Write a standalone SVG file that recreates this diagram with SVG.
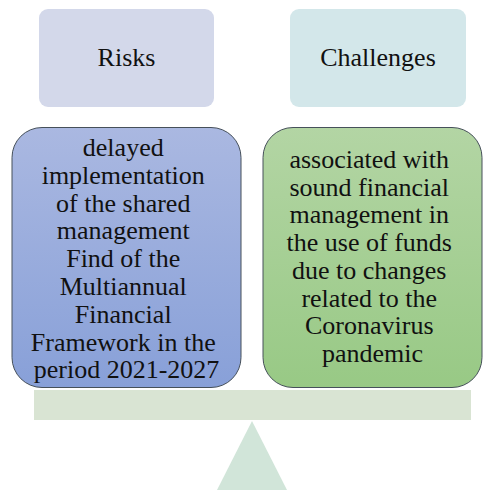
<svg xmlns="http://www.w3.org/2000/svg" width="483" height="490" viewBox="0 0 483 490">
<style>
.t{font-family:"Liberation Serif","Times New Roman",serif;font-size:26px;fill:#111;text-anchor:middle}
.box{stroke:#46505a;stroke-width:1}
</style>
<defs>
<linearGradient id="gb" x1="0" y1="0" x2="0" y2="1">
<stop offset="0" stop-color="#aab8e1"/>
<stop offset="1" stop-color="#88a0d8"/>
</linearGradient>
<linearGradient id="gg" x1="0" y1="0" x2="0" y2="1">
<stop offset="0" stop-color="#b3d5a4"/>
<stop offset="1" stop-color="#98c985"/>
</linearGradient>
</defs>
<rect width="483" height="490" fill="#fff"/>
<g id="fulcrum">
<rect x="34" y="390" width="437" height="30" fill="#d9e4d3"/>
<polygon points="252,421 217,490 287,490" fill="#d1e5d9"/>
</g>
<g id="risks">
<rect x="39" y="9" width="175" height="98" rx="9" fill="#d3d8ea"/>
<text class="t" x="126.5" y="66">Risks</text>
</g>
<g id="challenges">
<rect x="290" y="9" width="176" height="98" rx="9" fill="#d3e7ea"/>
<text class="t" x="378" y="66">Challenges</text>
</g>
<g id="risk-detail">
<rect class="box" x="12" y="127.5" width="229" height="260" rx="30" fill="url(#gb)"/>
<text class="t" x="126.5" y="156">
<tspan x="126.5">delayed</tspan>
<tspan x="126.5" dy="27.8">implementation</tspan>
<tspan x="126.5" dy="27.8">of the shared</tspan>
<tspan x="126.5" dy="27.8">management</tspan>
<tspan x="126.5" dy="27.8">Find of the</tspan>
<tspan x="126.5" dy="27.8">Multiannual</tspan>
<tspan x="126.5" dy="27.8">Financial</tspan>
<tspan x="126.5" dy="27.8">Framework in the</tspan>
<tspan x="126.5" dy="27.8">period 2021-2027</tspan>
</text>
</g>
<g id="challenge-detail">
<rect class="box" x="263" y="127.5" width="219" height="260" rx="30" fill="url(#gg)"/>
<text class="t" x="372.5" y="168">
<tspan x="372.5">associated with</tspan>
<tspan x="372.5" dy="27.7">sound financial</tspan>
<tspan x="372.5" dy="27.7">management in</tspan>
<tspan x="372.5" dy="27.7">the use of funds</tspan>
<tspan x="372.5" dy="27.7">due to changes</tspan>
<tspan x="372.5" dy="27.7">related to the</tspan>
<tspan x="372.5" dy="27.7">Coronavirus</tspan>
<tspan x="372.5" dy="27.7">pandemic</tspan>
</text>
</g>
<g id="connectors"/>
</svg>
